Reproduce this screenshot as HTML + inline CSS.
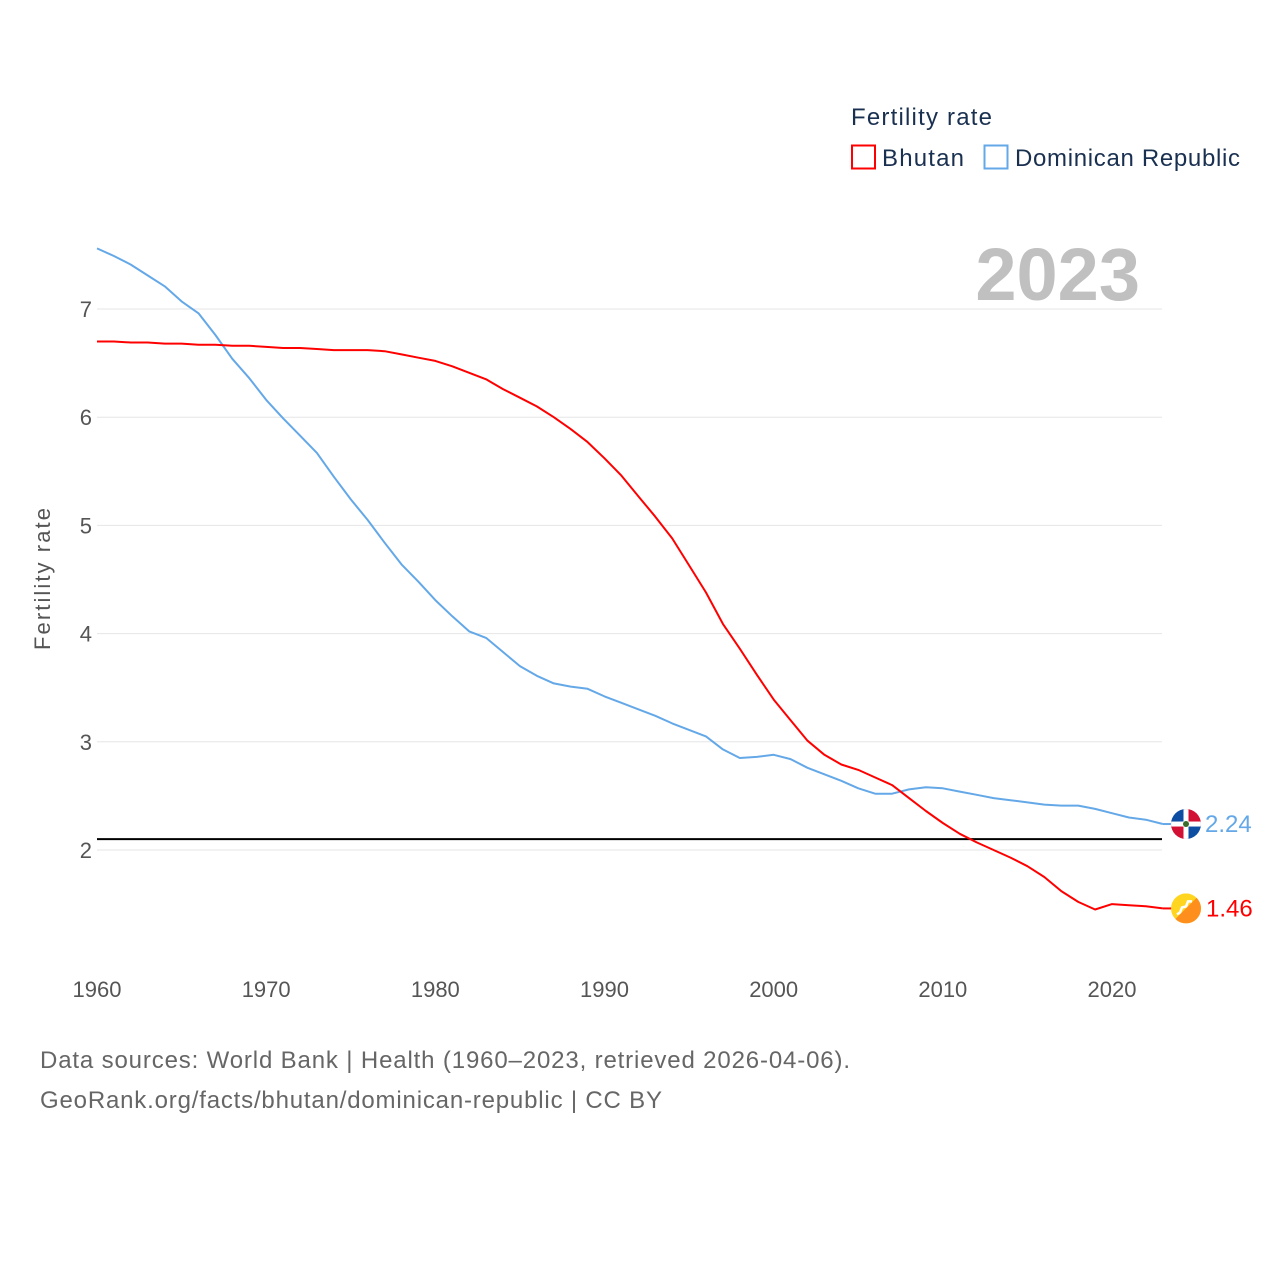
<!DOCTYPE html>
<html><head><meta charset="utf-8">
<style>
body{margin:0;background:#fff;font-family:"Liberation Sans",sans-serif;}
svg text{font-family:"Liberation Sans",sans-serif;}
</style></head>
<body>
<svg id="chart" width="1280" height="1280" xmlns="http://www.w3.org/2000/svg">
<rect width="1280" height="1280" fill="#fff"/>
<text x="851" y="125" font-size="24" fill="#1a3050" textLength="141">Fertility rate</text>
<g>
<rect x="852" y="145.5" width="23" height="23" fill="none" stroke="#f00" stroke-width="2"/>
<text x="882" y="166" font-size="24" fill="#1a3050" textLength="82">Bhutan</text></g>
<g>
<rect x="984.5" y="145.5" width="23" height="23" fill="none" stroke="#64a8e8" stroke-width="2"/>
<text x="1015" y="166" font-size="24" fill="#1a3050" textLength="225">Dominican Republic</text></g>
<text x="1140" y="300" font-size="74" font-weight="bold" fill="#c0c0c0" text-anchor="end">2023</text>
<g id="grid"></g>
<g id="yticks"></g>
<g id="xticks"></g>
<text transform="translate(50,579) rotate(-90)" font-size="22" fill="#555" text-anchor="middle" textLength="142">Fertility rate</text>
<g id="lines"></g>
<g id="ends"></g>
<text x="40" y="1068" font-size="24" fill="#666" textLength="810">Data sources: World Bank | Health (1960–2023, retrieved 2026-04-06).</text>
<text x="40" y="1108" font-size="24" fill="#666" textLength="622">GeoRank.org/facts/bhutan/dominican-republic | CC BY</text>
</svg>
<script>
const years=[];for(let y=1960;y<=2023;y++)years.push(y);
const bhutan=[6.70,6.70,6.69,6.69,6.68,6.68,6.67,6.67,6.66,6.66,6.65,6.64,6.64,6.63,6.62,6.62,6.62,6.61,6.58,6.55,6.52,6.47,6.41,6.35,6.26,6.18,6.10,6.00,5.89,5.77,5.62,5.46,5.27,5.08,4.88,4.63,4.38,4.09,3.86,3.62,3.39,3.20,3.01,2.88,2.79,2.74,2.67,2.60,2.48,2.36,2.25,2.15,2.07,2.00,1.93,1.85,1.75,1.62,1.52,1.45,1.50,1.49,1.48,1.46];
const dominican=[7.56,7.49,7.41,7.31,7.21,7.07,6.96,6.76,6.54,6.36,6.16,5.99,5.83,5.67,5.45,5.24,5.05,4.84,4.64,4.48,4.31,4.16,4.02,3.96,3.83,3.70,3.61,3.54,3.51,3.49,3.42,3.36,3.30,3.24,3.17,3.11,3.05,2.93,2.85,2.86,2.88,2.84,2.76,2.70,2.64,2.57,2.52,2.52,2.56,2.58,2.57,2.54,2.51,2.48,2.46,2.44,2.42,2.41,2.41,2.38,2.34,2.30,2.28,2.24];
const yTicks=[2,3,4,5,6,7];
const xTicks=[1960,1970,1980,1990,2000,2010,2020];
const replacement=2.1;
const NS="http://www.w3.org/2000/svg";
const X=v=>97+(v-1960)*(1112-97)/60;
const Y=v=>850-(v-2)*(850-309)/5;
function mk(t,a,p){const e=document.createElementNS(NS,t);for(const k in a)e.setAttribute(k,a[k]);p.appendChild(e);return e;}
const grid=document.getElementById('grid'),yt=document.getElementById('yticks'),xt=document.getElementById('xticks'),lines=document.getElementById('lines'),ends=document.getElementById('ends');
yTicks.forEach(v=>{
 const l=mk('line',{x1:97,x2:1162,y1:Y(v),y2:Y(v),stroke:'#e6e6e6','stroke-width':1},grid);
 
 
 const t=mk('text',{x:92,y:Y(v)+8,'font-size':22,fill:'#555','text-anchor':'end'},yt);t.textContent=v;
 
 
});
xTicks.forEach(v=>{
 const t=mk('text',{x:X(v),y:997,'font-size':22,fill:'#555','text-anchor':'middle'},xt);t.textContent=v;
 
 
});
const rl=mk('line',{x1:97,x2:1162,y1:Y(replacement),y2:Y(replacement),stroke:'#000','stroke-width':2},lines);


function path(arr,col,name){
 const d=arr.map((v,i)=>(i?'L':'M')+X(years[i]).toFixed(1)+','+Y(v).toFixed(1)).join('');
 const p=mk('path',{d:d,fill:'none',stroke:col,'stroke-width':2,'stroke-linejoin':'round'},lines);
 
 
}
path(dominican,'#64a8e8','dominican-republic-line');
path(bhutan,'#f00','bhutan-line');
const dv=dominican[dominican.length-1],bv=bhutan[bhutan.length-1];
const cx=1186;
const dy=Y(dv),by=Y(bv);
const dl=mk('line',{x1:X(2023),x2:cx-14,y1:Y(dv),y2:dy,stroke:'#64a8e8','stroke-width':2},ends);


const bl=mk('line',{x1:X(2023),x2:cx-14,y1:Y(bv),y2:by,stroke:'#f00','stroke-width':2},ends);


const dg=mk('g',{},ends);


mk('clipPath',{id:'cd'},dg);mk('circle',{cx:cx,cy:dy,r:15},dg.lastChild);
const dgi=mk('g',{'clip-path':'url(#cd)'},dg);
mk('rect',{x:cx-15,y:dy-15,width:15,height:15,fill:'#0d4ea3'},dgi);
mk('rect',{x:cx,y:dy-15,width:15,height:15,fill:'#d21034'},dgi);
mk('rect',{x:cx-15,y:dy,width:15,height:15,fill:'#d21034'},dgi);
mk('rect',{x:cx,y:dy,width:15,height:15,fill:'#0d4ea3'},dgi);
mk('rect',{x:cx-15,y:dy-2.5,width:30,height:5,fill:'#fff'},dgi);
mk('rect',{x:cx-2.5,y:dy-15,width:5,height:30,fill:'#fff'},dgi);
mk('circle',{cx:cx,cy:dy,r:3,fill:'#3a6b2a'},dgi);
const bg=mk('g',{},ends);


mk('clipPath',{id:'cb'},bg);mk('circle',{cx:cx,cy:by,r:15},bg.lastChild);
const bgi=mk('g',{'clip-path':'url(#cb)'},bg);
mk('rect',{x:cx-15,y:by-15,width:30,height:30,fill:'#ffd520'},bgi);
mk('path',{d:`M${cx+15},${by-15}L${cx+15},${by+15}L${cx-15},${by+15}Z`,fill:'#ff8f1c'},bgi);
mk('path',{d:`M${cx+6},${by-7}l-4,0l-2,5l-4,1l-2,5l-3,2`,fill:'none',stroke:'#fff','stroke-width':2.5},bgi);
const dt=mk('text',{x:1205,y:dy+8,'font-size':24,fill:'#64a8e8'},ends);dt.textContent=dv.toFixed(2);


const bt=mk('text',{x:1206,y:by+8,'font-size':24,fill:'#f00'},ends);bt.textContent=bv.toFixed(2);


</script>
</body></html>
